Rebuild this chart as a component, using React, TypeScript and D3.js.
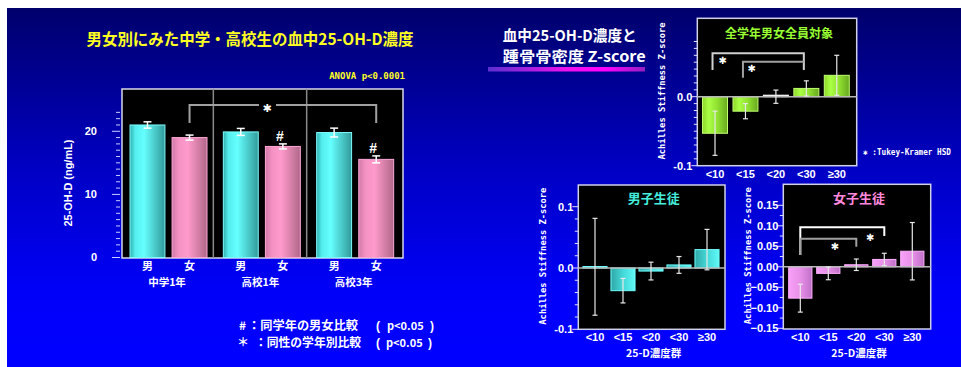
import React from 'react';
import * as d3 from 'd3';

const W = 961;
const H = 367;
const JP = "'Noto Sans CJK JP', sans-serif";
const MONO = "'DejaVu Sans Mono', monospace";
const NUM = "'Liberation Sans', Arial, sans-serif";

// 25-OH-D (ng/mL) by grade and sex
const grades = ['中学1年', '高校1年', '高校3年'];
const sexes = ['男', '女'];
const boysD = [21.0, 19.9, 19.8];
const boysDErr = [0.5, 0.55, 0.7];
const girlsD = [19.0, 17.6, 15.55];
const girlsDErr = [0.4, 0.4, 0.55];
const girlsSexDiff = [false, true, true]; // '#' marks
const mainTicks = [0, 10, 20];

// Achilles stiffness Z-score by 25-D group
const dGroups = ['<10', '<15', '<20', '<30', '≥30'];
const allZ = [-0.053, -0.021, 0.0, 0.012, 0.031];
const allZErr = [0.032, 0.011, 0.0096, 0.011, 0.029];
const boysZ = [0.002, -0.037, -0.005, 0.005, 0.030];
const boysZErr = [0.079, 0.02, 0.0145, 0.0137, 0.033];
const girlsZ = [-0.0765, -0.016, 0.005, 0.018, 0.038];
const girlsZErr = [0.034, 0.0155, 0.014, 0.015, 0.07];
const allPairs: [number, number][] = [[0, 3], [1, 3]];
const girlsPairs: [number, number][] = [[0, 3], [0, 2]];

type Stop = [string, string];

const Grad = ({ id, stops }: { id: string; stops: Stop[] }) => (
  <linearGradient id={id} x1="0" x2="1" y1="0" y2="0">
    {stops.map(([o, c], i) => <stop key={i} offset={o} stopColor={c} />)}
  </linearGradient>
);

function MainChart() {
  const x0 = 122, x1 = 403, yTop = 89, yBot = 258;
  const y = d3.scaleLinear().domain([0, 26.7]).range([257.5, yTop]);
  const gx = d3.scaleBand<string>().domain(grades).range([121, 401]);
  const sx = d3.scaleBand<string>().domain(sexes).range([9, 86]).paddingInner(0.17);
  const means = [boysD, girlsD];
  const errs = [boysDErr, girlsDErr];
  const minor = d3.range(0, 24, 1);
  const cx = (g: number, s: number) => gx(grades[g])! + sx(sexes[s])! + sx.bandwidth() / 2;
  const brY = 105, brDrop = 123;
  const bl = cx(0, 1), br = cx(2, 1), starX = 267;
  return (
    <g>
      <text x={250} y={45} fill="#ffff22" fontFamily={JP} fontWeight="bold" fontSize={16}
        textAnchor="middle" textLength={327} lengthAdjust="spacingAndGlyphs">男女別にみた中学・高校生の血中25-OH-D濃度</text>
      <text x={405} y={79} fill="#ffff22" fontFamily={MONO} fontWeight="bold" fontSize={9}
        textAnchor="end">ANOVA p&lt;0.0001</text>
      <rect x={x0} y={yTop} width={x1 - x0} height={yBot - yTop} fill="#000" stroke="#d8d8e8" strokeWidth={1.5} />
      {grades.slice(1).map(g => (
        <line key={g} x1={gx(g)! - 1} x2={gx(g)! - 1} y1={yTop} y2={yBot} stroke="#8a8a8a" strokeWidth={1.5} />
      ))}
      {minor.map(v => (
        <line key={v} x1={v % 10 === 0 ? 112 : 116} x2={120} y1={y(v)} y2={y(v)} stroke="#c8d0ff" strokeWidth={1} />
      ))}
      {mainTicks.map(v => (
        <text key={v} x={97} y={y(v)} dy="0.35em" fill="#fff" fontFamily={NUM} fontWeight="bold" fontSize={11}
          textAnchor="end">{v}</text>
      ))}
      <text transform="translate(68,183) rotate(-90)" fill="#fff" fontFamily={NUM} fontWeight="bold" fontSize={10}
        textAnchor="middle" dominantBaseline="central" textLength={87} lengthAdjust="spacingAndGlyphs">25-OH-D (ng/mL)</text>
      {grades.map((g, gi) => sexes.map((s, si) => {
        const v = means[si][gi];
        const e = errs[si][gi];
        const bx = gx(g)! + sx(s)!;
        const c = bx + sx.bandwidth() / 2;
        return (
          <g key={g + s}>
            <rect x={bx} y={y(v)} width={sx.bandwidth()} height={y(0) - y(v)}
              fill={`url(#${si === 0 ? 'gCyan' : 'gPink'})`} stroke={si === 0 ? '#7ffcff' : '#ffa8d8'} strokeWidth={1} />
            <line x1={c} x2={c} y1={y(v + e)} y2={y(v - e)} stroke="#fff" strokeWidth={1.5} />
            <line x1={c - 4} x2={c + 4} y1={y(v + e)} y2={y(v + e)} stroke="#fff" strokeWidth={1.5} />
            <line x1={c - 4} x2={c + 4} y1={y(v - e)} y2={y(v - e)} stroke="#fff" strokeWidth={1.5} />
            {si === 1 && girlsSexDiff[gi] && (
              <text x={c - 3} y={y(v + e) - 3} fill="#fff" fontFamily={NUM} fontWeight="bold" fontSize={14}
                textAnchor="middle">#</text>
            )}
            <text x={c} y={270} fill="#fff" fontFamily={JP} fontWeight="bold" fontSize={11} textAnchor="middle">{s}</text>
          </g>
        );
      }))}
      {grades.map(g => (
        <text key={g} x={gx(g)! + 46} y={286} fill="#fff" fontFamily={JP} fontWeight="bold" fontSize={10.5}
          textAnchor="middle">{g}</text>
      ))}
      <path d={`M${bl},${brDrop}V${brY}H${starX - 8}M${starX + 9},${brY}H${br}V${brDrop}`} fill="none"
        stroke="#a0a0a0" strokeWidth={2} />
      <text x={starX} y={brY + 7} fill="#fff" fontFamily="'DejaVu Sans', sans-serif" fontWeight="bold" fontSize={11}
        textAnchor="middle">✱</text>
      <g fill="#fff" fontFamily={JP} fontWeight="bold" fontSize={12}>
        <text x={239} y={330}>#</text>
        <text x={248} y={330} textLength={110} lengthAdjust="spacingAndGlyphs">：同学年の男女比較</text>
        <text x={376} y={330} fontFamily={NUM}>(</text>
        <text x={387} y={330} fontSize={11}>p&lt;0.05</text>
        <text x={430} y={330} fontFamily={NUM}>)</text>
        <text x={237} y={347}>＊</text>
        <text x={255} y={347} textLength={106} lengthAdjust="spacingAndGlyphs">：同性の学年別比較</text>
        <text x={376} y={347} fontFamily={NUM}>(</text>
        <text x={386} y={347} fontSize={11}>p&lt;0.05</text>
        <text x={428} y={347} fontFamily={NUM}>)</text>
      </g>
    </g>
  );
}

interface BracketLayout { pair: [number, number]; top: number; lDrop: number; rDrop: number; color: string; star: [number, number]; }

interface ZProps {
  frame: [number, number, number, number];
  domain: [number, number];
  yRange: [number, number];
  ticks: number[];
  minor: number[];
  fmt: (v: number) => string;
  band: [number, number];
  pad: number;
  means: number[];
  errs: number[];
  title: string;
  titleColor: string;
  titleSize: number;
  titleY: number;
  fill: string;
  border: string;
  labelY: number;
  xTitle?: boolean;
  brackets?: BracketLayout[];
  bracketShift?: number;
}

function ZChart(p: ZProps) {
  const [x0, y0, x1, y1] = p.frame;
  const y = d3.scaleLinear().domain(p.domain).range(p.yRange);
  const x = d3.scaleBand<string>().domain(dGroups).range(p.band).paddingInner(p.pad).paddingOuter(p.pad / 2);
  const bw = x.bandwidth();
  const c = (i: number) => x(dGroups[i])! + bw / 2;
  const midY = (y0 + y1) / 2;
  const sh = p.bracketShift ?? 0;
  return (
    <g>
      <rect x={x0} y={y0} width={x1 - x0} height={y1 - y0} fill="#000" stroke="#d0d0e8" strokeWidth={1.5} />
      {p.minor.map(v => (
        <line key={v} x1={x0 - (p.ticks.some(t => Math.abs(t - v) < 1e-9) ? 6 : 3.5)} x2={x0} y1={y(v)} y2={y(v)}
          stroke="#e0e0ff" strokeWidth={1} />
      ))}
      {p.ticks.map(v => (
        <text key={v} x={x0 - 5} y={y(v)} dy="0.35em" fill="#fff" fontFamily={NUM} fontWeight="bold" fontSize={11}
          textAnchor="end">{p.fmt(v)}</text>
      ))}
      <text transform={`translate(${x0 - 35},${midY - 1}) rotate(-90)`} fill="#fff" fontFamily={MONO} fontWeight="bold"
        fontSize={9} textAnchor="middle" dominantBaseline="central" textLength={137}
        lengthAdjust="spacingAndGlyphs">Achilles Stiffness Z-score</text>
      <text x={(x0 + x1) / 2 + 2} y={p.titleY} fill={p.titleColor} fontFamily={JP} fontWeight="bold"
        fontSize={p.titleSize} textAnchor="middle">{p.title}</text>
      {p.means.map((v, i) => {
        const top = y(Math.max(v, 0));
        const h = Math.max(Math.abs(y(v) - y(0)), 1.5);
        const zero = Math.abs(v) < 1e-9;
        return (
          <rect key={i} x={x(dGroups[i])} y={v >= 0 ? y(0) - h : top} width={bw} height={h}
            fill={zero ? '#fff' : p.fill} stroke={zero ? '#fff' : p.border} strokeWidth={1} />
        );
      })}
      <line x1={x0} x2={x1} y1={y(0)} y2={y(0)} stroke="#b8b8b8" strokeWidth={1.5} />
      {p.means.map((v, i) => {
        const e = p.errs[i];
        const cx = c(i);
        return (
          <g key={i} stroke="#e8e8e8" strokeWidth={1.2}>
            <line x1={cx} x2={cx} y1={y(v + e)} y2={y(v - e)} />
            <line x1={cx - 2.5} x2={cx + 2.5} y1={y(v + e)} y2={y(v + e)} />
            <line x1={cx - 2.5} x2={cx + 2.5} y1={y(v - e)} y2={y(v - e)} />
          </g>
        );
      })}
      {dGroups.map((g, i) => (
        <text key={g} x={c(i)} y={p.labelY} fill="#fff" fontFamily={NUM} fontWeight="bold" fontSize={11}
          textAnchor="middle">{g}</text>
      ))}
      {p.xTitle && (
        <text x={(x0 + x1) / 2 + 2} y={p.labelY + 16} fill="#fff" fontFamily={JP} fontWeight="bold" fontSize={10.5}
          textAnchor="middle">25-D濃度群</text>
      )}
      {(p.brackets ?? []).map((b, k) => {
        const l = c(b.pair[0]) + sh, r = c(b.pair[1]) + sh;
        return (
          <g key={k}>
            <path d={`M${l},${b.lDrop}V${b.top}H${r}V${b.rDrop}`} fill="none" stroke={b.color} strokeWidth={2} />
            <text x={b.star[0]} y={b.star[1] + 4} fill="#fff" fontFamily="'DejaVu Sans', sans-serif" fontWeight="bold"
              fontSize={10} textAnchor="middle">✱</text>
          </g>
        );
      })}
    </g>
  );
}

export default function App() {
  const f2 = d3.format('.2f');
  const f1 = (v: number) => (v < 0 ? '-' : '') + d3.format('.1f')(Math.abs(v));
  return (
    <svg width={W} height={H} style={{ position: 'absolute', left: 0, top: 0 }}>
      <defs>
        <linearGradient id="bg" x1="0" x2="0" y1="0" y2="1">
          <stop offset="0" stopColor="#00006c" />
          <stop offset="0.45" stopColor="#0000c4" />
          <stop offset="0.8" stopColor="#0000fa" />
          <stop offset="1" stopColor="#0000ff" />
        </linearGradient>
        <linearGradient id="uline" x1="0" x2="1" y1="0" y2="0">
          <stop offset="0" stopColor="#5a30d0" />
          <stop offset="0.5" stopColor="#ee10ee" />
          <stop offset="0.75" stopColor="#ff00ff" />
          <stop offset="1" stopColor="#9020c0" />
        </linearGradient>
        <Grad id="gCyan" stops={[['0', '#30b0b0'], ['0.15', '#55eeee'], ['0.4', '#66ffff'], ['1', '#329a9a']]} />
        <Grad id="gPink" stops={[['0', '#d07aa8'], ['0.2', '#f592c4'], ['0.45', '#ff9acc'], ['1', '#b06888']]} />
        <Grad id="gGreen" stops={[['0', '#8ed82a'], ['0.25', '#aaff44'], ['0.6', '#90e030'], ['1', '#68a820']]} />
        <Grad id="gCyan2" stops={[['0', '#30a8a8'], ['0.5', '#44d8d8'], ['1', '#60f8f8']]} />
        <Grad id="gPink2" stops={[['0', '#f8a0f8'], ['0.5', '#e890e8'], ['1', '#c070c8']]} />
      </defs>
      <rect x={0} y={0} width={W} height={H} fill="#fff" />
      <rect x={7} y={8} width={W - 7} height={H - 8} fill="url(#bg)" />
      <MainChart />
      <text x={502.7} y={41} fill="#fff" fontFamily={JP} fontWeight="bold" fontSize={15}
        textLength={134} lengthAdjust="spacingAndGlyphs">血中25-OH-D濃度と</text>
      <text x={502.7} y={61.5} fill="#fff" fontFamily={JP} fontWeight="bold" fontSize={15}
        textLength={143} lengthAdjust="spacingAndGlyphs">踵骨骨密度 Z-score</text>
      <rect x={488} y={67} width={157} height={4.5} fill="url(#uline)" />
      <ZChart frame={[697.3, 18.3, 856.7, 165.7]} domain={[-0.1, 0.1]} yRange={[165.7, 27.7]}
        ticks={[-0.1, 0]} minor={d3.range(-10, 9).map(v => v / 100)} fmt={f1}
        band={[699.8, 852]} pad={0.18} means={allZ} errs={allZErr}
        title="全学年男女全員対象" titleColor="#99ff33" titleSize={12} titleY={38}
        fill="url(#gGreen)" border="#c0ff70" labelY={178} bracketShift={-2.5}
        brackets={[
          { pair: allPairs[0], top: 53.3, lDrop: 70, rDrop: 70, color: '#d0d0d0', star: [722.7, 60] },
          { pair: allPairs[1], top: 61.7, lDrop: 77.7, rDrop: 61.7, color: '#a0a0a0', star: [751.7, 67.7] },
        ]} />
      <text x={863} y={155} fill="#fff" fontFamily={MONO} fontWeight="bold" fontSize={8}
        textLength={88} lengthAdjust="spacingAndGlyphs">✱ :Tukey-Kramer HSD</text>
      <ZChart frame={[578.3, 185, 725, 329.3]} domain={[-0.1, 0.1]} yRange={[329.3, 206.7]}
        ticks={[-0.1, 0, 0.1]} minor={d3.range(-5, 6).map(v => v / 50)} fmt={f1}
        band={[581, 721]} pad={0.14} means={boysZ} errs={boysZErr}
        title="男子生徒" titleColor="#44eedd" titleSize={13} titleY={203}
        fill="url(#gCyan2)" border="#70ffff" labelY={341} xTitle />
      <ZChart frame={[783.3, 184.3, 930.7, 329]} domain={[-0.15, 0.15]} yRange={[328.3, 205.3]}
        ticks={[-0.15, -0.1, -0.05, 0, 0.05, 0.1, 0.15]} minor={d3.range(-6, 7).map(v => v / 40)}
        fmt={(v: number) => (Math.abs(v) < 1e-9 ? '0.00' : f2(v))}
        band={[786.3, 926.3]} pad={0.17} means={girlsZ} errs={girlsZErr}
        title="女子生徒" titleColor="#ff88dd" titleSize={13} titleY={203}
        fill="url(#gPink2)" border="#ffb0ff" labelY={341} xTitle
        brackets={[
          { pair: girlsPairs[0], top: 227.3, lDrop: 255, rDrop: 236, color: '#ffffff', star: [870.3, 237.3] },
          { pair: girlsPairs[1], top: 238.7, lDrop: 255, rDrop: 246.7, color: '#a0a0a0', star: [835, 245.7] },
        ]} />
    </svg>
  );
}
